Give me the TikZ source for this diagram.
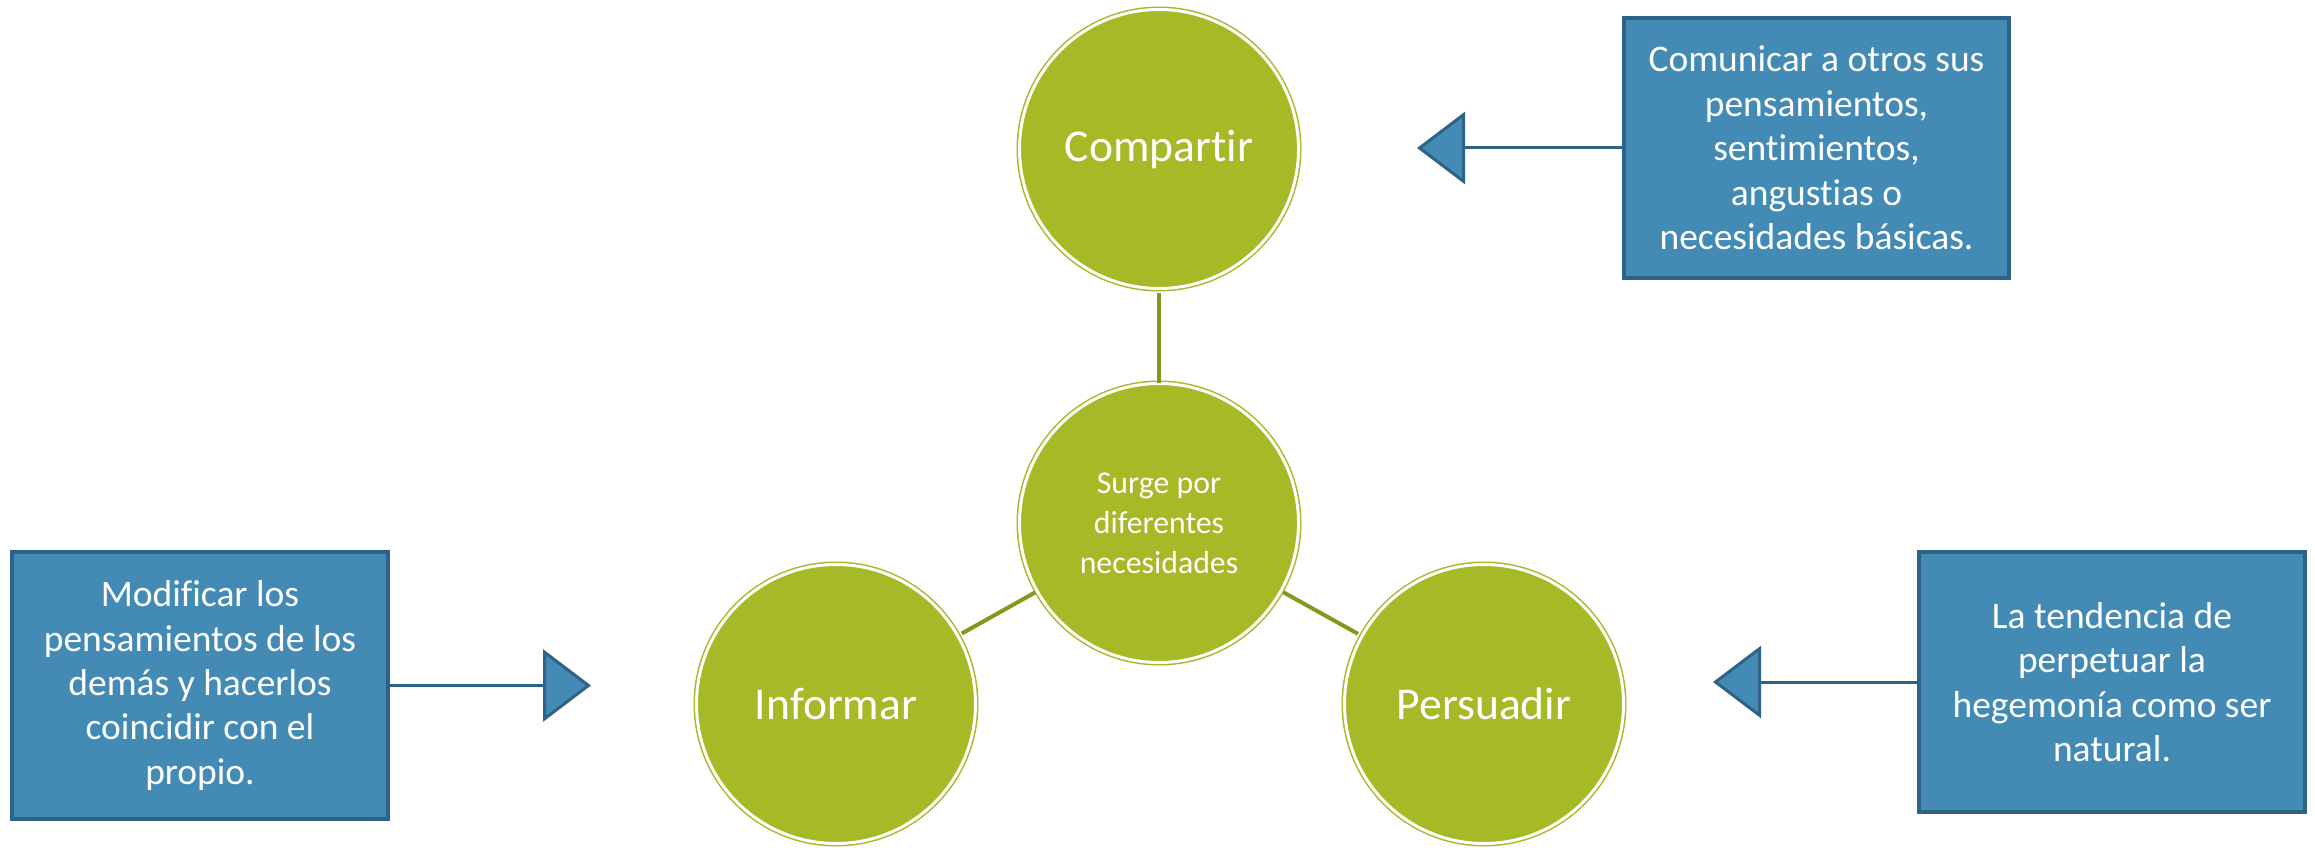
\documentclass[tikz,border=0pt]{standalone}
\usepackage{fontspec}
\setmainfont{Carlito}[Ligatures=NoCommon]
\usetikzlibrary{arrows.meta}

\definecolor{hojaverde}{HTML}{A6B927}
\definecolor{lineaverde}{HTML}{86971F}
\definecolor{cajaazul}{HTML}{438AB5}
\definecolor{bordeazul}{HTML}{2E6386}

\tikzset{
  circulo/.style={circle, minimum size=139.5pt, inner sep=0pt, fill=hojaverde,
    draw=hojaverde, double=white, double distance=1.5pt, line width=0.75pt,
    text=white, align=center, font=\fontsize{22.8}{27}\selectfont},
  caja/.style={rectangle, inner sep=0pt, fill=cajaazul, draw=bordeazul,
    line width=2pt, text=white, align=center, font=\fontsize{18.75}{22.2}\selectfont},
  enlace/.style={draw=lineaverde, line width=2pt},
  flecha/.style={draw=bordeazul, line width=1.5pt,
    -{Triangle[width=36pt, length=24pt, fill=cajaazul, line join=miter]}}
}

\begin{document}
\begin{tikzpicture}[x=0.5pt, y=-0.5pt]
        \useasboundingbox (0,0) rectangle (2315,850);

        % Circles
        \node[circulo] (comp) at (1159,149) {Compartir};
        \node[circulo, font=\fontsize{15.9}{20}\selectfont] (centro) at (1159,523) {Surge por\\diferentes\\necesidades};
        \node[circulo] (info) at (836,704) {Informar};
        \node[circulo] (pers) at (1484,704) {Persuadir};

        % Links
        \draw[enlace, shorten <=2pt] (comp) -- (centro);
        \draw[enlace, shorten <=1pt, shorten >=2pt] (centro) -- (info);
        \draw[enlace, shorten <=1pt, shorten >=2pt] (centro) -- (pers);

        % Boxes
        \node[caja, minimum width=192.5pt, minimum height=130pt] (cajacomp) at (1816.5,148)
          {Comunicar a otros sus\\pensamientos,\\sentimientos,\\angustias o\\necesidades básicas.};
        \node[caja, minimum width=188pt, minimum height=133.5pt] (cajainfo) at (200,685.5)
          {Modificar los\\pensamientos de los\\demás y hacerlos\\coincidir con el\\propio.};
        \node[caja, minimum width=193pt, minimum height=130pt] (cajapers) at (2112,682)
          {La tendencia de\\perpetuar la\\hegemonía como ser\\natural.};

        % Arrows
        \coordinate (puntacomp) at (1417,148);
        \coordinate (puntainfo) at (591,685.5);
        \coordinate (puntapers) at (1713,682);
        \draw[flecha] (cajacomp.west) -- (puntacomp);
        \draw[flecha] (cajainfo.east) -- (puntainfo);
        \draw[flecha] (cajapers.west) -- (puntapers);
    \end{tikzpicture}
\end{document}
